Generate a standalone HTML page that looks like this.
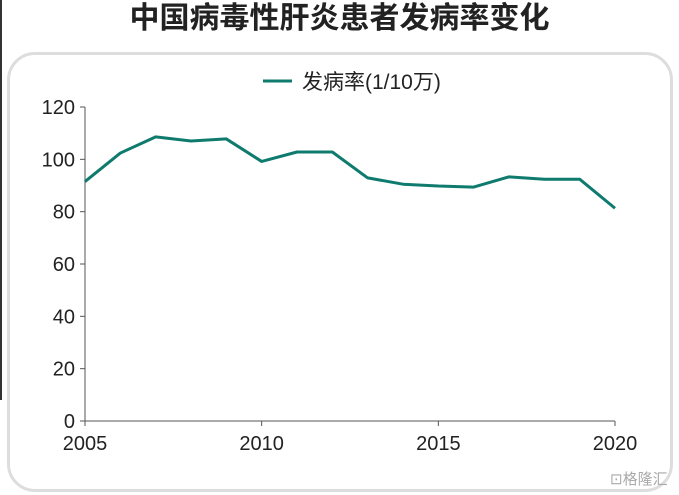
<!DOCTYPE html>
<html><head><meta charset="utf-8"><style>
body{margin:0;width:679px;height:495px;background:#fff;overflow:hidden;position:relative;font-family:"Liberation Sans","Noto Sans CJK SC",sans-serif}
#title{position:absolute;left:0;width:679px;top:1px;text-align:center;font-size:30px;font-weight:bold;color:#222;line-height:36px}
#box{position:absolute;left:7px;top:52px;width:660px;height:434px;border:3px solid #ddd;border-radius:28px}
#edge{position:absolute;left:0;top:0;width:2px;height:400px;background:#333}
svg{position:absolute;left:0;top:0}
</style></head><body>
<div id="edge"></div>
<div id="title">中国病毒性肝炎患者发病率变化</div>
<div id="box"></div>
<svg id="c" width="679" height="495"></svg>
<script>
const years=[2005,2006,2007,2008,2009,2010,2011,2012,2013,2014,2015,2016,2017,2018,2019,2020];
const rates=[91.5,102.4,108.6,107,107.8,99.2,102.8,102.8,92.9,90.5,89.8,89.4,93.3,92.4,92.4,81.3];
const yTicks=[0,20,40,60,80,100,120];
const xTicks=[2005,2010,2015,2020];
const NS='http://www.w3.org/2000/svg';
const svg=document.getElementById('c');
const x0=85,x1=615,y0=421,y1=107;
const X=v=>x0+(v-2005)/(2020-2005)*(x1-x0);
const Y=v=>y0-v/120*(y0-y1);
function el(t,a,txt){const e=document.createElementNS(NS,t);for(const k in a)e.setAttribute(k,a[k]);if(txt!==undefined)e.textContent=txt;svg.appendChild(e);return e;}
const ya=el('line',{x1:x0,y1:y1,x2:x0,y2:y0,stroke:'#555','stroke-width':1});


const xa=el('line',{x1:x0,y1:y0,x2:x1,y2:y0,stroke:'#555','stroke-width':1});


yTicks.forEach(v=>{
 const tk=el('line',{x1:x0-5,y1:Y(v),x2:x0,y2:Y(v),stroke:'#555'});
 
 
 const t=el('text',{x:x0-10,y:Y(v)+7,'text-anchor':'end','font-size':20,fill:'#222'},v);
 
 
});
xTicks.forEach(v=>{
 const tk=el('line',{x1:X(v),y1:y0,x2:X(v),y2:y0+5,stroke:'#555'});
 
 
 const t=el('text',{x:X(v),y:y0+29,'text-anchor':'middle','font-size':20,fill:'#222'},v);
 
 
});
const pts=years.map((y,i)=>X(y)+','+Y(rates[i])).join(' ');
const pl=el('polyline',{points:pts,fill:'none',stroke:'#0e7b6e','stroke-width':3,'stroke-linejoin':'round'});


const ll=el('line',{x1:263,y1:81,x2:292,y2:81,stroke:'#0e7b6e','stroke-width':3});


const lt=el('text',{x:302,y:89,'font-size':21,fill:'#222'},'发病率(1/10万)');


const wm=el('text',{x:610,y:484,'font-size':15,fill:'#aaa'},'⊡格隆汇');


</script>
</body></html>
